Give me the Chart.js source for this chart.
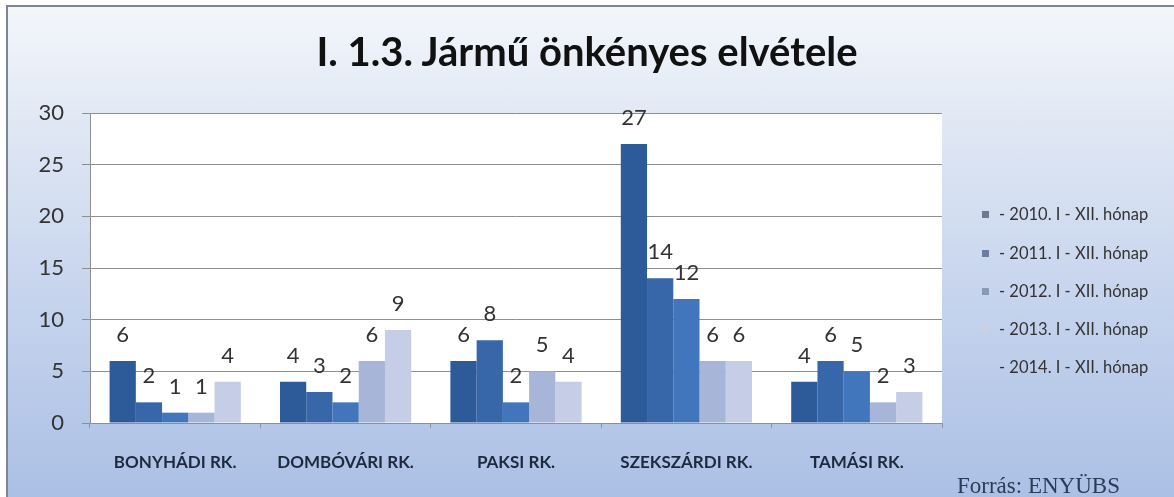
<!DOCTYPE html>
<html>
<head>
<meta charset="utf-8">
<script src="https://cdn.jsdelivr.net/npm/chart.js@4"></script>
<style>
  html, body { margin: 0; padding: 0; background: #fff; }
  #wrap {
    position: relative; width: 1174px; height: 497px; overflow: hidden;
  }
  #frame {
    position: absolute; left: 6px; top: 5px; right: 0; bottom: 0;
    border-left: 2px solid #7d8590; border-top: 2px solid #7d8590;
    background: linear-gradient(to bottom, #f3f6fb 0%, #e3eaf5 20%, #c9d6ee 55%, #abc0e5 100%);
  }
  canvas { position: absolute; left: 0; top: 0; }
  #title {
    position: absolute; left: 0; width: 1174px; top: 26px; text-align: center;
    font: bold 40px Lato, "Open Sans", sans-serif; color: #111; line-height: 50px;
  }
  .legend { position: absolute; left: 982px; font: 16.5px Lato, "Open Sans", sans-serif; color: #333; }
  .legend span.sq { display: inline-block; width: 7px; height: 7px; margin-right: 10px; vertical-align: 2px; }
  #source { position: absolute; left: 957px; top: 473px; font: 23px "Liberation Serif", serif; color: #2b3b58; }
</style>
</head>
<body>
<div id="wrap">
  <div id="frame"></div>
  <canvas id="c" width="1174" height="497"></canvas>
  <div id="title">I. 1.3. Jármű önkényes elvétele</div>
  <div id="legend"></div>
  <div id="source">Forrás: ENYÜBS</div>
</div>
<script>
  const categories = ['BONYHÁDI RK.', 'DOMBÓVÁRI RK.', 'PAKSI RK.', 'SZEKSZÁRDI RK.', 'TAMÁSI RK.'];
  const seriesLabels = ['- 2010. I - XII. hónap', '- 2011. I - XII. hónap', '- 2012. I - XII. hónap', '- 2013. I - XII. hónap', '- 2014. I - XII. hónap'];
  const v2010 = [6, 4, 6, 27, 4];
  const v2011 = [2, 3, 8, 14, 6];
  const v2012 = [1, 2, 2, 12, 5];
  const v2013 = [1, 6, 5, 6, 2];
  const v2014 = [4, 9, 4, 6, 3];
  const yTicks = [0, 5, 10, 15, 20, 25, 30];

  const colors = ['#2d5b99', '#3767a9', '#4276bc', '#a7b5d9', '#c5cee6'];
  const legendColors = ['#6c7a92', '#6a7ea0', '#8a9ab6', '#c9d1e2', 'transparent'];
  const values = [v2010, v2011, v2012, v2013, v2014];

  // legend (html)
  const legendEl = document.getElementById('legend');
  const legendTops = [204, 243, 281, 319, 357];
  seriesLabels.forEach((lab, i) => {
    const d = document.createElement('div');
    d.className = 'legend';
    d.style.top = legendTops[i] + 'px';
    d.innerHTML = '<span class="sq" style="background:' + legendColors[i] + '"></span>' + lab;
    legendEl.appendChild(d);
  });

  const plotBg = {
    id: 'plotBg',
    beforeDraw(chart) {
      const a = chart.chartArea, ctx = chart.ctx;
      ctx.save();
      ctx.fillStyle = '#ffffff';
      ctx.fillRect(a.left, a.top, a.right - a.left, a.bottom - a.top);
      ctx.restore();
    }
  };

  const valueLabels = {
    id: 'valueLabels',
    afterDatasetsDraw(chart) {
      const ctx = chart.ctx;
      ctx.save();
      ctx.font = '22px Lato, "Open Sans", sans-serif';
      ctx.fillStyle = '#333';
      ctx.textAlign = 'center';
      ctx.textBaseline = 'middle';
      chart.data.datasets.forEach((ds, i) => {
        chart.getDatasetMeta(i).data.forEach((bar, j) => {
          ctx.fillText(String(ds.data[j]), bar.x, bar.y - 26);
        });
      });
      ctx.restore();
    }
  };

  new Chart(document.getElementById('c'), {
    type: 'bar',
    data: {
      labels: categories,
      datasets: values.map((d, i) => ({
        label: seriesLabels[i],
        data: d,
        backgroundColor: colors[i],
        borderWidth: 0,
        categoryPercentage: 0.77,
        barPercentage: 1.0,
      })),
    },
    options: {
      responsive: false,
      animation: false,
      layout: { padding: { left: 0, right: 232, top: 113, bottom: 0 } },
      plugins: {
        legend: { display: false },
        tooltip: { enabled: false },
        title: { display: false },
      },
      scales: {
        y: {
          min: 0, max: 30,
          afterBuildTicks: (s) => { s.ticks = yTicks.map((v) => ({ value: v })); },
          afterFit: (s) => { s.width = 90; },
          ticks: { color: '#333', font: { size: 22, family: 'Lato, "Open Sans", sans-serif' }, padding: 18 },
          grid: { color: '#8f8f8f', lineWidth: 1, tickLength: 8 },
          border: { color: '#8f8f8f' },
        },
        x: {
          afterFit: (s) => { s.height = 74; },
          ticks: { color: '#1d2a3d', font: { size: 17, weight: 'bold', family: 'Lato, "Open Sans", sans-serif' }, padding: 24 },
          grid: { display: true, drawOnChartArea: false, offset: true, tickLength: 5, color: '#8f8f8f' },
          border: { color: '#8f8f8f' },
        },
      },
    },
    plugins: [plotBg, valueLabels],
  });
</script>
</body>
</html>
